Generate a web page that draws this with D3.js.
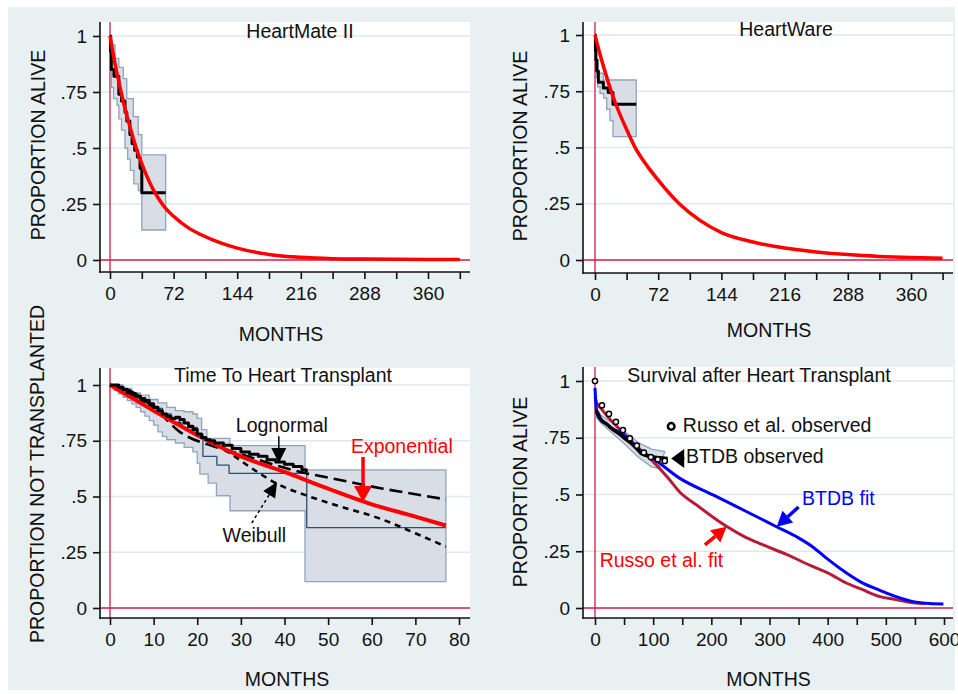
<!DOCTYPE html>
<html>
<head>
<meta charset="utf-8">
<script src="https://cdn.jsdelivr.net/npm/d3@7"></script>
<style>
  body { margin: 0; background: #fff; }
  svg { display: block; font-family: "Liberation Sans", Arial, sans-serif; }
</style>
</head>
<body>
<svg id="chart" width="958" height="694"></svg>
<script>
// ---------- data ----------
const yTicks = [0, 0.25, 0.5, 0.75, 1]
const lvadTicks = [0, 36, 72, 108, 144, 180, 216, 252, 288, 324, 360, 396]
const lvadLabels = [0, 72, 144, 216, 288, 360]
const txTicks = [0, 10, 20, 30, 40, 50, 60, 70, 80]
const postTicks = [0, 50, 100, 150, 200, 250, 300, 350, 400, 450, 500, 550, 600]
const postLabels = [0, 100, 200, 300, 400, 500, 600]

// HeartMate II
const hm2KmMonths = [0, 0.7, 1.5, 4.5, 10, 13, 17, 19, 22.5, 25, 28, 31, 34, 36, 63]
const hm2KmSurv = [1, 0.93, 0.85, 0.82, 0.74, 0.71, 0.66, 0.62, 0.56, 0.52, 0.49, 0.46, 0.41, 0.3, 0.3]
const hm2UpMonths = [0, 2, 5.7, 10, 15, 19, 26.4, 32, 36, 63]
const hm2UpSurv = [1, 0.96, 0.9, 0.86, 0.81, 0.72, 0.64, 0.56, 0.469, 0.469]
const hm2LoMonths = [0, 0.7, 1.5, 4, 8, 10, 13, 17, 20, 23, 27, 32, 36, 63]
const hm2LoSurv = [1, 0.86, 0.77, 0.72, 0.69, 0.63, 0.58, 0.5, 0.45, 0.4, 0.34, 0.31, 0.134, 0.134]
const hm2FitMonths = [0, 6, 12, 18, 24, 30, 36, 45, 54, 62, 72, 90, 102, 126, 144, 180, 216, 252, 288, 360, 396]
const hm2FitSurv = [1, 0.87, 0.76, 0.66, 0.575, 0.495, 0.43, 0.345, 0.28, 0.235, 0.195, 0.14, 0.115, 0.075, 0.053, 0.025, 0.012, 0.006, 0.004, 0.002, 0.002]

// HeartWare
const hwKmMonths = [0, 0.5, 1, 2, 3.8, 9.5, 15, 20.5, 47]
const hwKmSurv = [1, 0.93, 0.89, 0.84, 0.79, 0.765, 0.745, 0.692, 0.692]
const hwUpMonths = [0, 0.5, 1.5, 4, 9.5, 47]
const hwUpSurv = [1, 0.96, 0.89, 0.83, 0.8, 0.8]
const hwLoMonths = [0, 0.5, 1.5, 3, 5.7, 10, 13.3, 17, 20.5, 47]
const hwLoSurv = [1, 0.88, 0.81, 0.77, 0.74, 0.72, 0.67, 0.62, 0.548, 0.548]
const hwFitMonths = [0, 6, 12, 18, 24, 36, 45, 60, 72, 96, 120, 144, 180, 216, 252, 288, 324, 360, 396]
const hwFitSurv = [1, 0.91, 0.83, 0.755, 0.69, 0.58, 0.505, 0.415, 0.355, 0.25, 0.175, 0.122, 0.08, 0.053, 0.036, 0.024, 0.016, 0.011, 0.008]

// Time to heart transplant
const txObsMonths = [0, 1, 2, 3, 4, 5, 6, 7, 8, 9, 10, 11, 12, 13, 14, 15, 16, 17, 18, 19, 20, 21, 22, 23, 24, 26, 28, 30, 32, 34, 36, 38, 40, 42, 44, 45]
const txObsSurv = [1, 1, 0.99, 0.98, 0.965, 0.96, 0.95, 0.94, 0.93, 0.915, 0.9, 0.885, 0.87, 0.86, 0.85, 0.855, 0.845, 0.83, 0.815, 0.8, 0.78, 0.765, 0.755, 0.75, 0.74, 0.73, 0.715, 0.7, 0.69, 0.68, 0.665, 0.655, 0.645, 0.635, 0.62, 0.61]
const txKmMonths = [0, 2, 4, 6, 8, 10, 12, 14, 16, 18, 20, 21.3, 24.5, 27.3, 45.1, 77]
const txKmSurv = [1, 0.985, 0.96, 0.94, 0.92, 0.895, 0.87, 0.85, 0.83, 0.81, 0.78, 0.68, 0.641, 0.604, 0.36, 0.36]
const txUpMonths = [0, 1, 3, 5, 7, 9, 11, 13, 15, 17, 19, 20, 21, 22.2, 27.5, 44.7, 77]
const txUpSurv = [1, 1, 0.985, 0.965, 0.955, 0.935, 0.92, 0.9, 0.885, 0.88, 0.87, 0.85, 0.8, 0.761, 0.728, 0.619, 0.619]
const txLoMonths = [0, 1, 2, 3, 4, 5, 6, 7, 8, 9, 10, 11, 12, 13, 15, 17, 19, 20, 20.6, 22.5, 24.4, 27.5, 44.7, 77]
const txLoSurv = [1, 0.975, 0.96, 0.945, 0.93, 0.915, 0.9, 0.88, 0.86, 0.84, 0.82, 0.79, 0.77, 0.755, 0.74, 0.72, 0.7, 0.65, 0.6, 0.56, 0.504, 0.436, 0.118, 0.118]
const txExpMonths = [0, 10, 20, 30, 40, 50, 60, 70, 77]
const txExpSurv = [1, 0.885, 0.775, 0.68, 0.61, 0.535, 0.465, 0.41, 0.37]
const txLognMonths = [0, 5, 10, 16, 23.7, 30, 39, 45, 50, 62, 70, 77]
const txLognSurv = [1, 0.97, 0.9, 0.79, 0.725, 0.69, 0.634, 0.604, 0.585, 0.537, 0.51, 0.487]
const txWeibMonths = [0, 10, 20, 27, 33, 38, 45, 52, 62, 70, 77]
const txWeibSurv = [1, 0.9, 0.775, 0.7, 0.62, 0.56, 0.505, 0.46, 0.4, 0.335, 0.275]

// Survival after heart transplant
const russoObsMonths = [0, 12, 24, 36, 48, 60, 72, 84, 96, 108, 120]
const russoObsSurv = [1, 0.893, 0.855, 0.82, 0.784, 0.747, 0.715, 0.685, 0.665, 0.655, 0.648]
const btdbObsMonths = [1, 3, 10, 20, 29, 40, 50, 60, 74, 80, 97, 110, 125]
const btdbObsSurv = [0.87, 0.865, 0.83, 0.81, 0.79, 0.77, 0.75, 0.73, 0.696, 0.68, 0.667, 0.662, 0.659]
const btdbUpMonths = [1, 10, 30, 50, 74, 97, 120]
const btdbUpSurv = [0.89, 0.85, 0.815, 0.78, 0.73, 0.7, 0.689]
const btdbLoMonths = [1, 10, 30, 50, 74, 97, 110]
const btdbLoSurv = [0.845, 0.815, 0.77, 0.725, 0.665, 0.622, 0.615]
const btdbFitMonths = [0, 1, 3, 5, 10, 20, 30, 46, 57, 75, 100, 146, 203, 261, 312, 349, 375, 400, 433, 458, 490, 515, 547, 575, 599]
const btdbFitSurv = [0.97, 0.92, 0.86, 0.845, 0.83, 0.81, 0.79, 0.77, 0.745, 0.7, 0.659, 0.571, 0.498, 0.424, 0.358, 0.31, 0.268, 0.215, 0.153, 0.113, 0.078, 0.052, 0.028, 0.02, 0.018]
const russoFitMonths = [0, 2, 10, 30, 57, 75, 100, 125, 146, 175, 203, 226, 260, 289, 330, 375, 400, 433, 458, 490, 515, 547, 570]
const russoFitSurv = [0.93, 0.91, 0.88, 0.82, 0.75, 0.705, 0.645, 0.575, 0.51, 0.453, 0.4, 0.36, 0.31, 0.278, 0.235, 0.182, 0.155, 0.109, 0.083, 0.05, 0.038, 0.023, 0.02]

// ---------- styling ----------
const bgColor = '#e9f0f2'
const gridColor = '#dfe9ed'
const refColor = '#d11a44'
const bandFill = '#d8dde6'
const bandStroke = '#8fa5bd'
const fontSize = 19

const svg = d3.select('#chart')
svg.append('rect').attr('x', 8).attr('y', 7).attr('width', 947).attr('height', 683).attr('fill', bgColor)

const zip = (a, b) => a.map((v, i) => [v, b[i]])
const steps = pts => {
  const out = []
  pts.forEach((p, i) => {
    if (i > 0) out.push([p[0], pts[i - 1][1]])
    out.push(p)
  })
  return out
}
const fmtY = d => (d === 0 ? '0' : d === 1 ? '1' : String(d).replace(/^0/, ''))

function drawPanel(p) {
  const [x0, y0, x1, y1] = p.box
  const x = d3.scaleLinear().domain(p.xDom).range(p.xRng)
  const y = d3.scaleLinear().domain([0, 1]).range(p.yRng)
  const g = svg.append('g')

  g.append('rect').attr('x', x0).attr('y', y0).attr('width', x1 - x0).attr('height', y1 - y0).attr('fill', '#fff')

  g.append('g').selectAll('line')
    .data(yTicks.filter(d => d > 0))
    .join('line')
    .attr('x1', x0).attr('x2', x1)
    .attr('y1', d => y(d)).attr('y2', d => y(d))
    .attr('stroke', gridColor).attr('stroke-width', 1.3)

  g.append('line').attr('x1', x0).attr('x2', x1).attr('y1', y(0)).attr('y2', y(0))
    .attr('stroke', refColor).attr('stroke-width', 1.3)
  g.append('line').attr('x1', x(0)).attr('x2', x(0)).attr('y1', y0).attr('y2', y1)
    .attr('stroke', refColor).attr('stroke-width', 1.3)

  const marks = g.append('g')

  const ya = g.append('g')
    .attr('transform', `translate(${x0},0)`)
    .call(d3.axisLeft(y).tickValues(yTicks).tickFormat(fmtY).tickSize(7).tickPadding(6))
  const xa = g.append('g')
    .attr('transform', `translate(0,${y1})`)
    .call(d3.axisBottom(x).tickValues(p.xTicks).tickFormat(d => (p.xLabels.includes(d) ? d : '')).tickSize(7).tickPadding(8))
  for (const a of [ya, xa]) {
    a.attr('font-size', fontSize).attr('font-family', null)
    a.select('.domain').remove()
    a.selectAll('.tick line').attr('stroke', '#111').attr('stroke-width', 1.6)
    a.selectAll('.tick text').attr('fill', '#111')
  }
  g.append('line').attr('x1', x0).attr('x2', x0).attr('y1', y0).attr('y2', y1 + 0.8)
    .attr('stroke', '#111').attr('stroke-width', 1.6)
  g.append('line').attr('x1', x0 - 0.8).attr('x2', x1).attr('y1', y1).attr('y2', y1)
    .attr('stroke', '#111').attr('stroke-width', 1.6)

  g.append('text').attr('x', p.titleAt[0]).attr('y', p.titleAt[1])
    .attr('text-anchor', 'middle').attr('font-size', 19.5).attr('fill', '#111').text(p.title)
  g.append('text').attr('x', p.xTitleAt[0]).attr('y', p.xTitleAt[1])
    .attr('text-anchor', 'middle').attr('font-size', 19.5).attr('fill', '#111').text('MONTHS')
  g.append('text')
    .attr('transform', `translate(${p.yTitleAt[0]},${p.yTitleAt[1]}) rotate(-90)`)
    .attr('text-anchor', 'middle').attr('dominant-baseline', 'central')
    .attr('font-size', 19.5).attr('fill', '#111').text(p.yTitle)

  return { g: marks, x, y }
}

function band(P, up, lo, isStep) {
  const u = isStep ? steps(up) : up
  const l = isStep ? steps(lo) : lo
  const poly = u.concat(l.slice().reverse())
  P.g.append('path')
    .attr('d', d3.line().x(d => P.x(d[0])).y(d => P.y(d[1]))(poly) + 'Z')
    .attr('fill', bandFill).attr('stroke', bandStroke).attr('stroke-width', 1.3)
}

function curve(P, pts, opt) {
  return P.g.append('path')
    .attr('d', d3.line().x(d => P.x(d[0])).y(d => P.y(d[1])).curve(opt.curve || d3.curveMonotoneX)(pts))
    .attr('fill', 'none')
    .attr('stroke', opt.color)
    .attr('stroke-width', opt.width)
    .attr('stroke-dasharray', opt.dash || null)
    .attr('stroke-linejoin', 'round')
}

function arrow(P, tail, tip, opt) {
  const ax = P.x(tail[0]), ay = P.y(tail[1])
  const bx = P.x(tip[0]), by = P.y(tip[1])
  const len = Math.hypot(bx - ax, by - ay)
  const ux = (bx - ax) / len, uy = (by - ay) / len
  const cx = bx - ux * opt.head, cy = by - uy * opt.head
  if (len > opt.head) {
    P.g.append('line').attr('x1', ax).attr('y1', ay).attr('x2', cx).attr('y2', cy)
      .attr('stroke', opt.color).attr('stroke-width', opt.width)
      .attr('stroke-dasharray', opt.dash || null)
  }
  P.g.append('path')
    .attr('d', `M${bx},${by}L${cx - uy * opt.half},${cy + ux * opt.half}L${cx + uy * opt.half},${cy - ux * opt.half}Z`)
    .attr('fill', opt.color)
}

function label(P, at, text, color, anchor) {
  P.g.append('text').attr('x', P.x(at[0])).attr('y', P.y(at[1]))
    .attr('text-anchor', anchor).attr('font-size', 19.5).attr('fill', color).text(text)
}

// ---------- panel 1: HeartMate II ----------
const p1 = drawPanel({
  box: [100, 22, 470, 272], xDom: [0, 360], xRng: [110, 428], yRng: [260, 36],
  xTicks: lvadTicks, xLabels: lvadLabels,
  title: 'HeartMate II', titleAt: [300, 37.5],
  yTitle: 'PROPORTION ALIVE', yTitleAt: [38, 145], xTitleAt: [281, 340.5]
})
band(p1, zip(hm2UpMonths, hm2UpSurv), zip(hm2LoMonths, hm2LoSurv), true)
curve(p1, zip(hm2KmMonths, hm2KmSurv), { color: '#000', width: 3, curve: d3.curveStepAfter })
curve(p1, zip(hm2FitMonths, hm2FitSurv), { color: '#ff0000', width: 3.5 })

// ---------- panel 2: HeartWare ----------
const p2 = drawPanel({
  box: [583, 22, 953, 273], xDom: [0, 360], xRng: [595, 911], yRng: [260, 35],
  xTicks: lvadTicks, xLabels: lvadLabels,
  title: 'HeartWare', titleAt: [786, 36],
  yTitle: 'PROPORTION ALIVE', yTitleAt: [520, 146], xTitleAt: [769, 337]
})
band(p2, zip(hwUpMonths, hwUpSurv), zip(hwLoMonths, hwLoSurv), true)
curve(p2, zip(hwKmMonths, hwKmSurv), { color: '#000', width: 3, curve: d3.curveStepAfter })
curve(p2, zip(hwFitMonths, hwFitSurv), { color: '#ff0000', width: 3.5 })

// ---------- panel 3: time to heart transplant ----------
const p3 = drawPanel({
  box: [100, 368, 470, 618], xDom: [0, 80], xRng: [110, 459], yRng: [608, 385],
  xTicks: txTicks, xLabels: txTicks,
  title: 'Time To Heart Transplant', titleAt: [283, 382],
  yTitle: 'PROPORTION NOT TRANSPLANTED', yTitleAt: [37, 474], xTitleAt: [287, 686]
})
band(p3, zip(txUpMonths, txUpSurv), zip(txLoMonths, txLoSurv), true)
curve(p3, zip(txKmMonths, txKmSurv), { color: '#2b4f78', width: 1.3, curve: d3.curveStepAfter })
curve(p3, zip(txLognMonths, txLognSurv), { color: '#000', width: 2.6, dash: '13,6' })
curve(p3, zip(txWeibMonths, txWeibSurv), { color: '#000', width: 2.6, dash: '6,5' })
curve(p3, zip(txExpMonths, txExpSurv), { color: '#ff0000', width: 4 })
curve(p3, zip(txObsMonths, txObsSurv), { color: '#000', width: 3, curve: d3.curveStepAfter })

label(p3, [39.4, 0.789], 'Lognormal', '#111', 'middle')
arrow(p3, [38.7, 0.77], [38.7, 0.65], { color: '#000', width: 1.5, head: 15, half: 7.5 })
label(p3, [33.1, 0.296], 'Weibull', '#111', 'middle')
arrow(p3, [32.5, 0.381], [38.3, 0.565], { color: '#000', width: 1.5, head: 15, half: 7, dash: '3,3' })
label(p3, [66.9, 0.695], 'Exponential', '#ff0000', 'middle')
arrow(p3, [58, 0.677], [58, 0.475], { color: '#ff0000', width: 3.5, head: 16, half: 9 })

// ---------- panel 4: survival after heart transplant ----------
const p4 = drawPanel({
  box: [583, 367, 953, 618], xDom: [0, 600], xRng: [595, 944], yRng: [608, 381],
  xTicks: postTicks, xLabels: postLabels,
  title: 'Survival after Heart Transplant', titleAt: [759, 382],
  yTitle: 'PROPORTION ALIVE', yTitleAt: [520, 492], xTitleAt: [768.5, 686]
})
band(p4, zip(btdbUpMonths, btdbUpSurv), zip(btdbLoMonths, btdbLoSurv), false)
curve(p4, zip(russoFitMonths, russoFitSurv), { color: '#b51d36', width: 3 })
curve(p4, zip(btdbFitMonths, btdbFitSurv), { color: '#0000ff', width: 3 })
curve(p4, zip(btdbObsMonths, btdbObsSurv), { color: '#000', width: 3.5 })
p4.g.append('g').selectAll('circle')
  .data(zip(russoObsMonths, russoObsSurv))
  .join('circle')
  .attr('cx', d => p4.x(d[0])).attr('cy', d => p4.y(d[1])).attr('r', 2.6)
  .attr('fill', '#fff').attr('stroke', '#000').attr('stroke-width', 1.5)

p4.g.append('circle').attr('cx', p4.x(131)).attr('cy', p4.y(0.8)).attr('r', 3.3)
  .attr('fill', '#fff').attr('stroke', '#000').attr('stroke-width', 2.5)
label(p4, [151, 0.777], 'Russo et al. observed', '#111', 'start')
arrow(p4, [154, 0.659], [131, 0.659], { color: '#000', width: 2, head: 13, half: 9.5 })
label(p4, [156.4, 0.637], 'BTDB observed', '#111', 'start')
label(p4, [356, 0.454], 'BTDB fit', '#0000ff', 'start')
arrow(p4, [350, 0.445], [312.4, 0.358], { color: '#0000ff', width: 3.5, head: 15, half: 8 })
label(p4, [8, 0.182], 'Russo et al. fit', '#ff0000', 'start')
arrow(p4, [189, 0.278], [226.4, 0.358], { color: '#ff0000', width: 3.5, head: 15, half: 8 })
</script>
</body>
</html>
